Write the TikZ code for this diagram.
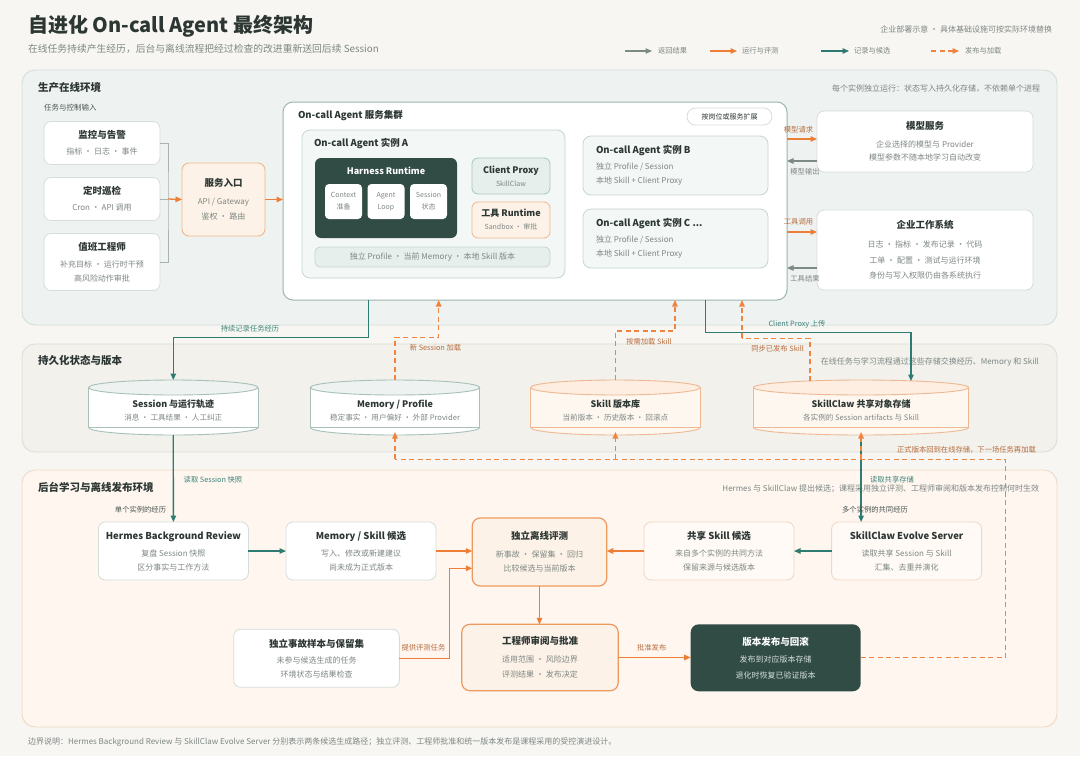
\documentclass[tikz,border=0pt]{standalone}
\usepackage{fontspec}
\setmainfont{Noto Sans CJK SC}
\usetikzlibrary{arrows.meta}
\definecolor{cBg}{HTML}{F7F6F2}
\definecolor{cProdF}{HTML}{EEF2F0}
\definecolor{cProdB}{HTML}{D3DEDA}
\definecolor{cPersF}{HTML}{F2F1EC}
\definecolor{cPersB}{HTML}{DCDED8}
\definecolor{cBackF}{HTML}{FEF6EF}
\definecolor{cBackB}{HTML}{EFD8C4}
\definecolor{cDarkG}{HTML}{314B45}
\definecolor{cTeal}{HTML}{2E7C71}
\definecolor{cOr}{HTML}{EC7E36}
\definecolor{cOrD}{HTML}{EF8441}
\definecolor{cOrT}{HTML}{B86C3E}
\definecolor{cTeT}{HTML}{3B8379}
\definecolor{cGArr}{HTML}{7E8A86}
\definecolor{cDark}{HTML}{2C3633}
\definecolor{cDark2}{HTML}{4A5451}
\definecolor{cGray}{HTML}{7E8784}
\definecolor{cBoxB}{HTML}{D5DDDA}
\definecolor{cClB}{HTML}{9DB5AF}
\definecolor{cInstF}{HTML}{F3F7F5}
\definecolor{cInstB}{HTML}{C5D6D1}
\definecolor{cCpF}{HTML}{E7EFEC}
\definecolor{cCpB}{HTML}{A9C7BF}
\definecolor{cOrF}{HTML}{FDF2E7}
\definecolor{cOrB}{HTML}{F0B88F}
\definecolor{cOrS}{HTML}{EE9A5E}
\definecolor{cCrF}{HTML}{FFFAF5}
\definecolor{cCrB}{HTML}{EFD7C4}
\definecolor{cBrk}{HTML}{A8B3B0}
\definecolor{cCylG}{HTML}{A9BFB9}
\definecolor{cCylGT}{HTML}{EEF3F1}
\definecolor{cCylO}{HTML}{EDB894}
\definecolor{cCylOF}{HTML}{FEF7F0}
\definecolor{cCylOT}{HTML}{FDEEE1}
\definecolor{cLight}{HTML}{D5E0DC}
\newcommand\fz[2]{\fontsize{#1}{#2}\selectfont}
\newcommand\bT[2][9.5]{{\color{cDark}\fontsize{#1}{12}\selectfont\bfseries #2}}
\newcommand\cyl[6]{%
  \fill[#3] (#1,427.5) ellipse[x radius=#2, y radius=7.5];
  \fill[#3] ({#1-#2},387.5) rectangle ({#1+#2},427.5);
  \begin{scope}
    \clip ({#1-#2-2},427.5) rectangle ({#1+#2+2},440);
    \draw[#4, line width=0.9pt] (#1,427.5) ellipse[x radius=#2, y radius=7.5];
  \end{scope}
  \draw[#4, line width=0.9pt] ({#1-#2},387.5) -- ({#1-#2},427.5) -- ({#1+#2},427.5) -- ({#1+#2},387.5);
  \draw[#4, line width=0.9pt, fill=#5] (#1,387.5) ellipse[x radius=#2, y radius=7.5];
  \node[minimum width={2*#2}, minimum height=55pt] (#6) at (#1,407.5) {};
}
\begin{document}
\begin{tikzpicture}[x=1pt,y=-1pt,
  every node/.style={inner sep=0pt, outer sep=0pt},
  band/.style={rounded corners=13pt, line width=0.9pt, anchor=north west},
  bandt/.style={anchor=west, text=cDark, font=\fz{10.5}{12}\bfseries},
  bnote/.style={anchor=east, text=cGray, font=\fz{8}{10}},
  wbox/.style={draw=cBoxB, fill=white, line width=0.8pt, rounded corners=7pt, align=center, text=cGray},
  obox/.style={draw=cOrB, fill=cOrF, line width=0.9pt, rounded corners=7pt, align=center, text=cGray},
  sbox/.style={draw=cOrS, fill=cOrF, line width=1.2pt, rounded corners=8pt, align=center, text=cGray},
  cbox/.style={draw=cCrB, fill=cCrF, line width=0.8pt, rounded corners=7pt, align=center, text=cGray},
  inst/.style={draw=cInstB, fill=cInstF, line width=0.8pt, rounded corners=8pt, anchor=north west},
  itl/.style={anchor=west, text=cDark, font=\fz{9.5}{11}\bfseries},
  itx/.style={anchor=west, text=cGray, font=\fz{8}{10}},
  mini/.style={draw=none, fill=white, rounded corners=4pt, minimum width=37pt, minimum height=35pt, align=center, text=cGray, font=\fz{7}{12}},
  lbl/.style={font=\fz{7.3}{9}},
  orL/.style={lbl, text=cOrT},
  teL/.style={lbl, text=cTeT},
  grL/.style={lbl, text=cGray},
  dkL/.style={lbl, text=cDark2},
  lgd/.style={anchor=west, font=\fz{7.3}{9}, text=cGray},
  arr/.style={line width=1.3pt, -{Triangle[length=6.5pt,width=5.5pt]}},
  orA/.style={arr, color=cOr},
  tealA/.style={arr, color=cTeal},
  grayA/.style={arr, color=cGArr, line width=1.1pt},
  dashA/.style={arr, color=cOrD, dash pattern=on 5pt off 3.5pt},
  dashO/.style={line width=1.3pt, color=cOrD, dash pattern=on 5pt off 3.5pt},
  brk/.style={line width=0.9pt, color=cBrk}
]
\useasboundingbox[fill=cBg] (0,0) rectangle (1080,756);

% ---------- header ----------
\node[anchor=west, text=cDark, font=\fz{20}{24}\bfseries] (title) at (28,26) {自进化 On-call Agent 最终架构};
\node[anchor=west, text=cGray, font=\fz{9.8}{12}] (subt) at (28,49) {在线任务持续产生经历，后台与离线流程把经过检查的改进重新送回后续 Session};
\node[anchor=east, text=cGray, font=\fz{8}{10}] (hnote) at (1052,29.5) {企业部署示意 · 具体基础设施可按实际环境替换};
\coordinate (l1a) at (625,51); \coordinate (l1b) at (652,51);
\coordinate (l2a) at (710,51); \coordinate (l2b) at (737,51);
\coordinate (l3a) at (821,51); \coordinate (l3b) at (849,51);
\coordinate (l4a) at (931,51); \coordinate (l4b) at (959,51);
\draw[grayA] (l1a) -- (l1b);
\draw[orA] (l2a) -- (l2b);
\draw[tealA] (l3a) -- (l3b);
\draw[dashA] (l4a) -- (l4b);
\node[lgd] (l1t) at (658,51) {返回结果};
\node[lgd] (l2t) at (742,51) {运行与评测};
\node[lgd] (l3t) at (854,51) {记录与候选};
\node[lgd] (l4t) at (965,51) {发布与加载};

% ---------- bands ----------
\node[band, fill=cProdF, draw=cProdB, minimum width=1035pt, minimum height=255pt] (prod) at (22,70) {};
\node[band, fill=cPersF, draw=cPersB, minimum width=1035pt, minimum height=108pt] (pers) at (22,344) {};
\node[band, fill=cBackF, draw=cBackB, minimum width=1035pt, minimum height=257pt] (back) at (22,470) {};
\node[bandt] (prodT) at (38,88) {生产在线环境};
\node[bnote] (prodN) at (1040,88.5) {每个实例独立运行：状态写入持久化存储，不依赖单个进程};
\node[bandt] (persT) at (38,361) {持久化状态与版本};
\node[bnote] (persN) at (1039,362) {在线任务与学习流程通过这些存储交换经历、Memory 和 Skill};
\node[bandt] (backT) at (38,487.5) {后台学习与离线发布环境};
\node[bnote] (backN) at (1039,488.5) {Hermes 与 SkillClaw 提出候选；课程采用独立评测、工程师审阅和版本发布控制何时生效};
\node[anchor=west, text=cGray, font=\fz{8}{10}] (foot) at (28,742) {边界说明：Hermes Background Review 与 SkillClaw Evolve Server 分别表示两条候选生成路径；独立评测、工程师批准和统一版本发布是课程采用的受控演进设计。};

% ---------- production: inputs ----------
\node[anchor=west, text=cDark2, font=\fz{7.5}{9}] (inT) at (44,108) {任务与控制输入};
\node[wbox, minimum width=116pt, minimum height=43pt, font=\fz{8}{14}] (mon) at (102,143) {\bT{监控与告警}\\[2pt]指标 · 日志 · 事件};
\node[wbox, minimum width=116pt, minimum height=43pt, font=\fz{8}{14}] (cron) at (102,199) {\bT{定时巡检}\\[2pt]Cron · API 调用};
\node[wbox, minimum width=116pt, minimum height=57pt, font=\fz{8}{14}] (eng) at (102,262) {\bT{值班工程师}\\[3pt]补充目标 · 运行时干预\\高风险动作审批};
\node[obox, minimum width=83pt, minimum height=73pt, font=\fz{8}{15}] (entry) at (223.5,199.5) {\bT{服务入口}\\[3pt]API / Gateway\\鉴权 · 路由};
\coordinate (bk) at (168,199);
\draw[brk] (mon.east) -| (bk) |- (eng.east);
\draw[brk] (cron.east) -- (bk);
\draw[orA] (bk) -- (entry.west);

% ---------- cluster ----------
\node[draw=cClB, fill=white, line width=1pt, rounded corners=10pt, minimum width=504pt, minimum height=198pt, anchor=north west] (cluster) at (283,102) {};
\draw[orA] (entry.east) -- (entry.east -| cluster.west);
\node[anchor=west, text=cDark, font=\fz{9.5}{11}\bfseries] (clT) at (298,116) {On-call Agent 服务集群};
\node[draw=cBoxB, fill=white, line width=0.8pt, rounded corners=8.5pt, minimum width=85pt, minimum height=17pt, text=cDark, font=\fz{7}{9}] (pill) at (729.5,116.5) {按岗位或服务扩展};

\node[inst, minimum width=263pt, minimum height=148pt] (instA) at (302,130) {};
\node[itl] (aT) at (314,143) {On-call Agent 实例 A};
\node[fill=cDarkG, rounded corners=6pt, minimum width=142pt, minimum height=80pt, anchor=north west] (harn) at (315,158) {};
\node[text=white, font=\fz{9}{11}\bfseries] (harnT) at (386,171) {Harness Runtime};
\node[mini] (ctx) at (343.5,201.5) {Context\\准备};
\node[mini] (loop) at (386,201.5) {Agent\\Loop};
\node[mini] (sst) at (428.5,201.5) {Session\\状态};
\node[draw=cCpB, fill=cCpF, line width=0.8pt, rounded corners=6pt, minimum width=78pt, minimum height=36pt, align=center, text=cGray, font=\fz{7}{13}] (cp) at (511,176) {\bT[9]{Client Proxy}\\SkillClaw};
\node[draw=cOrB, fill=cOrF, line width=0.8pt, rounded corners=6pt, minimum width=78pt, minimum height=36pt, align=center, text=cGray, font=\fz{7}{13}] (trt) at (511,220) {\bT[9]{工具 Runtime}\\Sandbox · 审批};
\node[draw=cInstB, fill=cCpF, line width=0.8pt, rounded corners=5pt, minimum width=235pt, minimum height=20pt, text=cGray, font=\fz{8}{10}] (bar) at (432.5,257) {独立 Profile · 当前 Memory · 本地 Skill 版本};

\node[inst, minimum width=185pt, minimum height=59pt] (instB) at (583,136) {};
\node[itl] (bT) at (596,150) {On-call Agent 实例 B};
\node[itx] (b1) at (596,167) {独立 Profile / Session};
\node[itx] (b2) at (596,181) {本地 Skill + Client Proxy};
\node[inst, minimum width=185pt, minimum height=59pt] (instC) at (583,209) {};
\node[itl] (cT) at (596,223) {On-call Agent 实例 C ...};
\node[itx] (c1) at (596,240) {独立 Profile / Session};
\node[itx] (c2) at (596,254) {本地 Skill + Client Proxy};

% ---------- right services ----------
\node[wbox, minimum width=216pt, minimum height=61pt, font=\fz{8}{13.5}] (model) at (925,141.5) {\bT{模型服务}\\[4.5pt]企业选择的模型与 Provider\\模型参数不随本地学习自动改变};
\node[wbox, minimum width=216pt, minimum height=80pt, font=\fz{8}{15.5}] (ent) at (925,250) {\bT{企业工作系统}\\[3.5pt]日志 · 指标 · 发布记录 · 代码\\工单 · 配置 · 测试与运行环境\\身份与写入权限仍由各系统执行};
\coordinate (mreq) at (800,139); \coordinate (mout) at (800,161);
\coordinate (treq) at (800,232); \coordinate (tout) at (800,268);
\draw[orA] (cluster.east |- mreq) -- (model.west |- mreq);
\draw[grayA] (model.west |- mout) -- (cluster.east |- mout);
\draw[orA] (cluster.east |- treq) -- (ent.west |- treq);
\draw[grayA] (ent.west |- tout) -- (cluster.east |- tout);
\node[orL] (mreqT) at (798.5,129.5) {模型请求};
\node[grL] (moutT) at (805,172) {模型输出};
\node[orL] (treqT) at (798.5,222) {工具调用};
\node[grL] (toutT) at (805,279) {工具结果};

% ---------- persistence ----------
\cyl{173.3}{84.7}{white}{cCylG}{cCylGT}{sess}
\cyl{395}{84.7}{white}{cCylG}{cCylGT}{mem}
\cyl{615.4}{84.7}{cCylOF}{cCylO}{cCylOT}{skl}
\cyl{861.1}{107.6}{cCylOF}{cCylO}{cCylOT}{scs}
\node[align=center, text=cGray, font=\fz{7.6}{13}] (sessT) at (173.3,410.5) {\bT[9]{Session 与运行轨迹}\\消息 · 工具结果 · 人工纠正};
\node[align=center, text=cGray, font=\fz{7.6}{13}] (memT) at (395,410.5) {\bT[9]{Memory / Profile}\\稳定事实 · 用户偏好 · 外部 Provider};
\node[align=center, text=cGray, font=\fz{7.6}{13}] (sklT) at (615.4,410.5) {\bT[9]{Skill 版本库}\\当前版本 · 历史版本 · 回滚点};
\node[align=center, text=cGray, font=\fz{7.6}{13}] (scsT) at (861.1,410.5) {\bT[9]{SkillClaw 共享对象存储}\\各实例的 Session artifacts 与 Skill};

% ---------- backend ----------
\node[wbox, minimum width=150pt, minimum height=58pt, font=\fz{8}{13.5}] (hermes) at (173.4,551) {\bT{Hermes Background Review}\\[4pt]复盘 Session 快照\\区分事实与工作方法};
\node[wbox, minimum width=150pt, minimum height=58pt, font=\fz{8}{13.5}] (memc) at (361,551) {\bT{Memory / Skill 候选}\\[4pt]写入、修改或新建建议\\尚未成为正式版本};
\node[sbox, minimum width=134.5pt, minimum height=68pt, font=\fz{8}{14.7}] (eval) at (539.5,552) {\bT{独立离线评测}\\[2.6pt]新事故 · 保留集 · 回归\\比较候选与当前版本};
\node[cbox, minimum width=150pt, minimum height=58pt, font=\fz{8}{13.5}] (shared) at (719,551) {\bT{共享 Skill 候选}\\[4pt]来自多个实例的共同方法\\保留来源与候选版本};
\node[cbox, minimum width=150pt, minimum height=58pt, font=\fz{8}{13.5}] (evo) at (906.6,551) {\bT{SkillClaw Evolve Server}\\[4pt]读取共享 Session 与 Skill\\汇集、去重并演化};
\node[wbox, minimum width=165.7pt, minimum height=58pt, font=\fz{8}{13.5}] (sample) at (316.5,658.3) {\bT{独立事故样本与保留集}\\[3pt]未参与候选生成的任务\\环境状态与结果检查};
\node[sbox, minimum width=156.4pt, minimum height=66.4pt, font=\fz{8}{15}] (review) at (540,657.5) {\bT{工程师审阅与批准}\\[3.3pt]适用范围 · 风险边界\\评测结果 · 发布决定};
\node[fill=cDarkG, rounded corners=8pt, minimum width=170pt, minimum height=67pt, align=center, text=cLight, font=\fz{8}{15.3}] (rel) at (775.7,657.8) {{\color{white}\fz{9.5}{12}\bfseries 版本发布与回滚}\\[2.4pt]发布到对应版本存储\\退化时恢复已验证版本};

% ---------- connectors ----------
\coordinate (k1) at (368.5,337.3);
\draw[tealA] (cluster.south -| k1) -- (k1) -| (sess.north);
\coordinate (k2) at (438.7,337.3);
\draw[dashA] (mem.north) |- (k2) -- (cluster.south -| k2);
\coordinate (k3) at (675,331);
\draw[dashA] (skl.north) |- (k3) -- (cluster.south -| k3);
\coordinate (k4) at (705.3,332.5); \coordinate (k4b) at (911,332.5);
\draw[tealA] (cluster.south -| k4) |- (k4b) -- ([yshift=-1pt]scs.north -| k4b);
\coordinate (k5) at (742,338.3); \coordinate (k5b) at (810,338.3);
\draw[dashO] ([yshift=-1pt]scs.north -| k5b) |- (k5);
\draw[dashA] (k5) -- (cluster.south -| k5);

\draw[tealA] (sess.south) -- (hermes.north);
\draw[tealA] (scs.south) -- (scs.south |- evo.north);
\coordinate (dj) at (1005.7,459.3);
\draw[dashO] (rel.east) -| (dj) -- (mem.south |- dj);
\draw[dashA] (mem.south |- dj) -- ([yshift=3pt]mem.south);
\draw[dashA] (skl.south |- dj) -- ([yshift=3pt]skl.south);
\draw[dashA] (scs.south |- dj) -- ([yshift=3pt]scs.south);

\draw[tealA] (hermes.east) -- (memc.west);
\draw[orA] (memc.east) -- (memc.east -| eval.west);
\draw[orA] (shared.west) -- (shared.west -| eval.east);
\draw[tealA] (evo.west) -- (shared.east);
\coordinate (k6) at (449.5,568.3);
\draw[orA] (sample.east) -| (k6) -- (k6 -| eval.west);
\draw[orA] (eval.south) -- (eval.south |- review.north);
\draw[orA] (review.east) -- (review.east -| rel.west);

% ---------- connector labels ----------
\node[teL] (e1) at (250,329) {持续记录任务经历};
\node[orL] (e2) at (435.5,347.7) {新 Session 加载};
\node[orL] (e3) at (649,341.7) {按需加载 Skill};
\node[teL] (e4) at (797,324) {Client Proxy 上传};
\node[orL] (e5) at (777.6,349) {同步已发布 Skill};
\node[orL] (e6) at (966.5,450) {正式版本回到在线存储，下一场任务再加载};
\node[teL] (e7) at (213,480) {读取 Session 快照};
\node[dkL] (e8) at (140.5,510) {单个实例的经历};
\node[teL] (e9) at (892,480) {读取共享存储};
\node[dkL] (e10) at (875,510) {多个实例的共同经历};
\node[orL] (e11) at (423.4,647.7) {提供评测任务};
\node[orL] (e12) at (651.7,647.3) {批准发布};
\end{tikzpicture}
\end{document}
